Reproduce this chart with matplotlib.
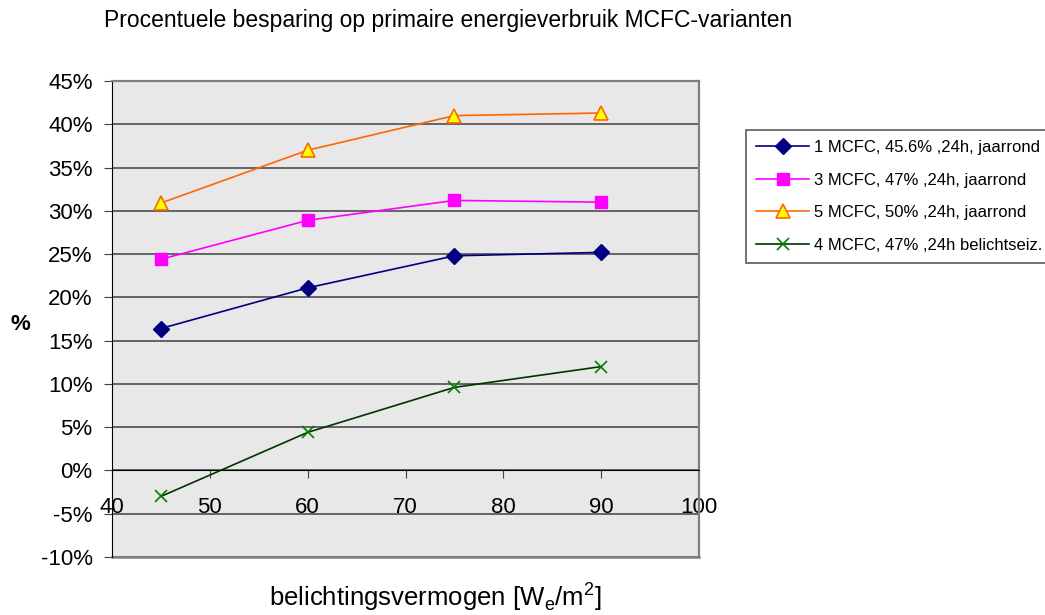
import matplotlib
matplotlib.use("Agg")
import matplotlib.pyplot as plt
from matplotlib.ticker import MultipleLocator, FuncFormatter

plt.rcParams['font.family'] = ['Liberation Sans', 'DejaVu Sans']

vermogen = [45, 60, 75, 90]
mcfc1 = [16.4, 21.1, 24.8, 25.2]
mcfc3 = [24.4, 28.9, 31.2, 31.0]
mcfc5 = [30.9, 37.0, 41.0, 41.3]
mcfc4 = [-3.0, 4.4, 9.6, 12.0]

labels = ['1 MCFC, 45.6% ,24h, jaarrond',
          '3 MCFC, 47% ,24h, jaarrond',
          '5 MCFC, 50% ,24h, jaarrond',
          '4 MCFC, 47% ,24h belichtseiz.']

W, H = 1045, 615
fig = plt.figure(figsize=(W / 100, H / 100), dpi=100)
# plot area in pixels: x 112..699, y 81..557
ax = fig.add_axes([112 / W, 1 - 557 / H, (699 - 112) / W, (557 - 81) / H])
ax.set_facecolor('#E8E8E8')

ax.plot(vermogen, mcfc1, color='#000080', lw=1.2, marker='D', ms=8,
        mfc='#000080', mec='#000080', label=labels[0], zorder=3)
ax.plot(vermogen, mcfc3, color='#FF00FF', lw=1.2, marker='s', ms=9,
        mfc='#FF00FF', mec='#FF00FF', label=labels[1], zorder=3)
ax.plot(vermogen, mcfc5, color='#FF6600', lw=1.2, marker='^', ms=10,
        mfc='#FFFF00', mec='#FF6600', mew=1.2, label=labels[2], zorder=3)
ax.plot(vermogen, mcfc4, color='#003300', lw=1.2, marker='x', ms=9,
        mec='#008000', mew=1.2, label=labels[3], zorder=3)

ax.set_xlim(40, 100)
ax.set_ylim(-10, 45)
ax.xaxis.set_major_locator(MultipleLocator(10))
ax.yaxis.set_major_locator(MultipleLocator(5))
ax.yaxis.set_major_formatter(FuncFormatter(lambda v, p: f'{v:.0f}%'))
ax.grid(True, axis='y', color='#404040', lw=1.1, zorder=1)
ax.set_axisbelow(True)

ax.spines['bottom'].set_position(('data', 0))
ax.spines['bottom'].set_color('black')
ax.spines['left'].set_color('black')
for s in ['top', 'right']:
    ax.spines[s].set_color('#808080')
    ax.spines[s].set_linewidth(1.6)
ax.axhline(-10, color='#808080', lw=1.8, zorder=2, clip_on=False)

ax.tick_params(axis='both', labelsize=16, direction='out', length=6,
               color='#404040')
ax.tick_params(axis='x', pad=13)
ax.tick_params(axis='y', pad=8)

fig.text(104 / W, 1 - 27 / H,
         'Procentuele besparing op primaire energieverbruik MCFC-varianten',
         fontsize=16.5, va='baseline', ha='left')
fig.text(20 / W, 1 - 324 / H, '%', fontsize=16, fontweight='bold',
         ha='center', va='center')
fig.text(435 / W, 1 - 597 / H,
         'belichtingsvermogen [W$_\\mathregular{e}$/m$^\\mathregular{2}$]',
         fontsize=18.5, ha='center', va='center')

leg = ax.legend(loc='upper left', bbox_to_anchor=(746 / W, 1 - 130 / H),
                bbox_transform=fig.transFigure, frameon=True, fancybox=False,
                edgecolor='#333333', fontsize=12, handlelength=3.2,
                labelspacing=1.05, borderpad=0.6, handletextpad=0.3,
                borderaxespad=0)
leg.get_frame().set_linewidth(1.2)

fig.savefig('out.png', dpi=100)
